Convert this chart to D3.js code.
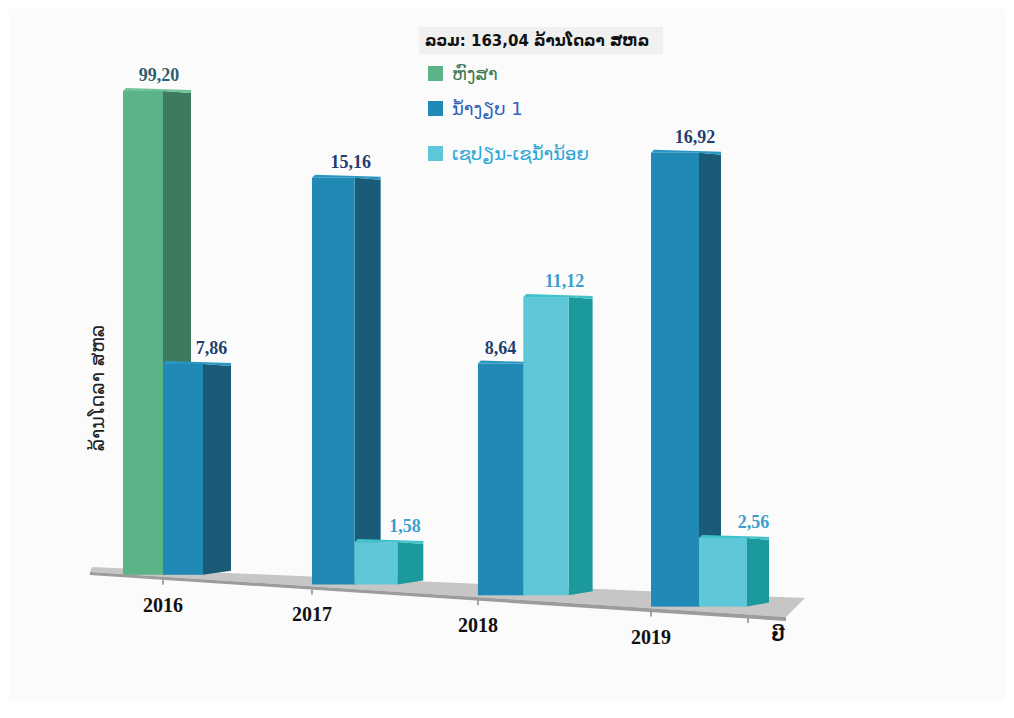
<!DOCTYPE html>
<html>
<head>
<meta charset="utf-8">
<script src="https://cdn.jsdelivr.net/npm/d3@7"></script>
<style>
  body { margin: 0; background: #ffffff; }
  svg { display: block; }
</style>
</head>
<body>
<div id="chart"></div>
<script>
var years = ["2016", "2017", "2018", "2019"]
var seriesNames = ["ຫົງສາ", "ນ້ຳງຽບ 1", "ເຊປຽນ-ເຊນ້ຳນ້ອຍ"]
var hongsa = [99.20, null, null, null]
var namNgiep = [7.86, 15.16, 8.64, 16.92]
var xePian = [null, 1.58, 11.12, 2.56]
var totalText = "ລວມ: 163,04 ລ້ານໂດລາ ສຫລ"
var yTitle = "ລ້ານໂດລາ ສຫລ"
var xTitle = "ປີ"

var width = 1014, height = 718

// front, side, top face + label colour per series
var faceFront = ["#5ab487", "#2089b6", "#5ec8d8"]
var faceSide = ["#3e7a5d", "#1a5b78", "#1b999c"]
var faceTop = ["#6cc497", "#2a97c2", "#3fc2c8"]
var labelColor = ["#2e5f6c", "#1f3f70", "#3a9fcc"]
var legendText = ["#3b7a50", "#2f5fbd", "#2aa6d6"]

var locale = d3.formatLocale({decimal: ",", thousands: ".", grouping: [3], currency: ["", ""]})
var fmt = locale.format(".2f")

var allSeries = [hongsa, namNgiep, xePian]
var flat = []
years.forEach(function(y, i) {
    allSeries.forEach(function(arr, s) {
        if (arr[i] !== null) flat.push({year: y, idx: i, series: s, value: arr[i]})
    })
})

var svg = d3.select("#chart").append("svg")
    .attr("width", width)
    .attr("height", height)

svg.append("rect")
    .attr("x", 9).attr("y", 9)
    .attr("width", 996).attr("height", 692)
    .attr("fill", "#fbfbfb")

/* Scales */
// slight perspective: spacing grows to the right
var xScale = d3.scalePow().exponent(1.08).domain([0, years.length - 1]).range([163, 651])
// broken value axis: linear up to ~17, compressed above
var hScale = d3.scaleLinear().domain([0, 17, 100]).range([0, 456, 484])
var floorY = d3.scaleLinear().domain([90, 780]).range([573, 618])
var barW = d3.scaleLinear().domain([0, 3]).range([40, 48])
var depth = d3.scaleLinear().domain([0, 3]).range([28, 22])

/* Floor */
svg.append("polygon")
    .attr("points", [[92, 567], [805, 598], [786, 617], [90, 572]].join(" "))
    .attr("fill", "#c6c6c6")
svg.append("polygon")
    .attr("points", [[90, 572], [786, 617], [786, 621], [90, 575]].join(" "))
    .attr("fill", "#9c9c9c")

/* Ticks */
var tickX = years.map(function(y, i) { return xScale(i) }).concat([748])
svg.selectAll(".tick")
    .data(tickX)
    .enter()
    .append("line")
    .attr("x1", d => d).attr("x2", d => d)
    .attr("y1", d => floorY(d) + 2)
    .attr("y2", d => floorY(d) + 7)
    .attr("stroke", "#8a8a8a")
    .attr("stroke-width", 1.5)

/* Bars */
var bars = svg.selectAll(".bar")
    .data(flat)
    .enter()
    .append("g")
    .attr("class", "bar")

function geom(d) {
    var w = barW(d.idx), dp = depth(d.idx)
    var x0 = xScale(d.idx) + (d.series - 1) * w
    var bottom = floorY(xScale(d.idx)) - 3
    var top = bottom - hScale(d.value)
    return {x0: x0, x1: x0 + w, w: w, dp: dp, bottom: bottom, top: top}
}

function neighbour(d, step) {
    var arr = allSeries[d.series + step]
    return arr ? arr[d.idx] : null
}

bars.append("polygon")
    .attr("points", function(d) {
        var g = geom(d)
        return [[g.x1, g.top], [g.x1 + g.dp, g.top + 2], [g.x1 + g.dp, g.bottom - 4], [g.x1, g.bottom]].join(" ")
    })
    .attr("fill", d => faceSide[d.series])

bars.append("polygon")
    .attr("points", function(d) {
        var g = geom(d)
        return [[g.x0, g.top], [g.x0 + 3, g.top - 3], [g.x1 + g.dp, g.top - 1], [g.x1 + g.dp, g.top + 2], [g.x1, g.top]].join(" ")
    })
    .attr("fill", d => faceTop[d.series])

bars.append("rect")
    .attr("x", d => geom(d).x0)
    .attr("y", d => geom(d).top)
    .attr("width", d => geom(d).w)
    .attr("height", d => geom(d).bottom - geom(d).top)
    .attr("fill", d => faceFront[d.series])

/* Value labels, drawn after all bars */
svg.selectAll(".value")
    .data(flat)
    .enter()
    .append("text")
    .text(d => fmt(d.value))
    .attr("x", function(d) {
        var g = geom(d)
        var left = neighbour(d, -1), right = neighbour(d, 1)
        if (left !== null && left > d.value) return g.x1 + g.dp * 0.3
        if (right !== null && right > d.value) return g.x0 + g.w / 2
        return g.x1 - 4
    })
    .attr("y", d => geom(d).top - 10)
    .attr("text-anchor", "middle")
    .attr("font-family", "Liberation Serif, serif")
    .attr("font-weight", "bold")
    .attr("font-size", "18px")
    .attr("fill", d => labelColor[d.series])
    .attr("stroke", "#ffffff")
    .attr("stroke-width", 3)
    .attr("stroke-opacity", 0.8)
    .attr("paint-order", "stroke")

/* Year labels */
svg.selectAll(".year")
    .data(years)
    .enter()
    .append("text")
    .text(d => d)
    .attr("x", (d, i) => xScale(i))
    .attr("y", (d, i) => floorY(xScale(i)) + 34)
    .attr("text-anchor", "middle")
    .attr("font-family", "Liberation Serif, serif")
    .attr("font-weight", "bold")
    .attr("font-size", "20px")
    .attr("fill", "#111")

svg.append("text")
    .text(xTitle)
    .attr("x", 778).attr("y", 641)
    .attr("text-anchor", "middle")
    .attr("font-family", "DejaVu Sans, sans-serif")
    .attr("font-weight", "bold")
    .attr("font-size", "18px")
    .attr("fill", "#111")

svg.append("text")
    .text(yTitle)
    .attr("transform", "translate(104,388) rotate(-90)")
    .attr("text-anchor", "middle")
    .attr("font-family", "DejaVu Sans, sans-serif")
    .attr("font-size", "19px")
    .attr("fill", "#222")

/* Legend */
svg.append("rect")
    .attr("x", 419).attr("y", 27)
    .attr("width", 244).attr("height", 27)
    .attr("fill", "#f0f0f0")
svg.append("text")
    .text(totalText)
    .attr("x", 425).attr("y", 46)
    .attr("font-family", "DejaVu Sans, sans-serif")
    .attr("font-weight", "bold")
    .attr("font-size", "15px")
    .attr("fill", "#111")

var legendY = [66, 101, 146]
var legend = svg.selectAll(".legend")
    .data(seriesNames)
    .enter()
    .append("g")
    .attr("class", "legend")
legend.append("rect")
    .attr("x", 428)
    .attr("y", (d, i) => legendY[i])
    .attr("width", 15).attr("height", 15)
    .attr("fill", (d, i) => faceFront[i])
legend.append("text")
    .text(d => d)
    .attr("x", 452)
    .attr("y", (d, i) => legendY[i] + 14)
    .attr("font-family", "DejaVu Sans, sans-serif")
    .attr("font-size", "18px")
    .attr("fill", (d, i) => legendText[i])
</script>
</body>
</html>
